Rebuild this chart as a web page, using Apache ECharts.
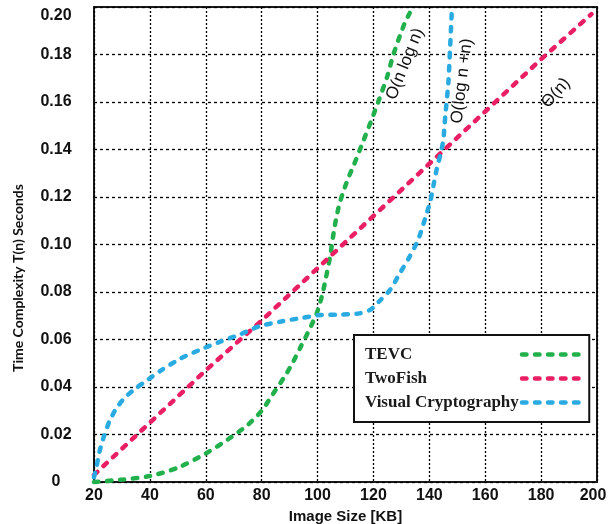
<!DOCTYPE html>
<html>
<head>
<meta charset="utf-8">
<script src="https://cdn.jsdelivr.net/npm/echarts@6/dist/echarts.min.js"></script>
<style>
  html, body { margin: 0; padding: 0; background: #fff; }
  #chart { width: 609px; height: 524px; }
</style>
</head>
<body>
<div id="chart"></div>
<script>
// Image size (KB) and running time T(n) in seconds for each scheme
const tevcX = [20, 30, 40, 50, 60, 68, 75, 80, 84, 88, 91, 94, 97, 99.7, 101.5, 103, 104.5, 105.5, 106.5, 107.7, 109, 111, 113, 116, 119.5, 122, 125, 127, 129.5, 131.3, 133];
const tevcY = [0, 0.001, 0.0025, 0.006, 0.012, 0.018, 0.024, 0.030, 0.037, 0.044, 0.050, 0.057, 0.064, 0.071, 0.078, 0.086, 0.095, 0.103, 0.110, 0.1165, 0.1215, 0.128, 0.1335, 0.1425, 0.153, 0.161, 0.171, 0.1795, 0.188, 0.1935, 0.1975];

const twofishX = [20, 40, 60, 80, 100, 120, 140, 160, 180, 198];
const twofishY = [0.003, 0.025, 0.047, 0.068, 0.090, 0.112, 0.134, 0.156, 0.178, 0.197];

const visualX = [20, 21, 22, 23.5, 25.5, 28, 31, 35, 38, 44, 51, 58, 65, 72, 79, 87, 94, 101, 109, 115, 119, 122, 126, 129.5, 133, 136, 138.5, 140.3, 141.5, 142.7, 144, 145, 145.7, 146.8, 147.4, 148];
const visualY = [0.002, 0.007, 0.013, 0.019, 0.0255, 0.031, 0.0355, 0.0395, 0.042, 0.047, 0.052, 0.0557, 0.059, 0.062, 0.0655, 0.0676, 0.069, 0.0703, 0.0705, 0.071, 0.0726, 0.076, 0.081, 0.088, 0.095, 0.102, 0.111, 0.118, 0.125, 0.132, 0.138, 0.144, 0.154, 0.168, 0.182, 0.197];

const seriesNames = ['TEVC', 'TwoFish', 'Visual Cryptography'];
const seriesColors = ['#21b04b', '#e91e63', '#29abe2'];

// Complexity notes written alongside the curves
const notes = [
  { text: 'O(n log n)', x: 405, y: 64, angle: 68 },
  { text: 'O(log n +n)', x: 462, y: 81, angle: 83 },
  { text: '\u0398(n)', x: 556, y: 93, angle: 48 }
];

const pairs = (xs, ys) => xs.map((x, i) => [x, ys[i]]);
const seriesData = [pairs(tevcX, tevcY), pairs(twofishX, twofishY), pairs(visualX, visualY)];

const chart = echarts.init(document.getElementById('chart'), null, { renderer: 'canvas' });

const tickFont = { fontFamily: 'Liberation Sans, Arial, sans-serif', fontWeight: 'bold', fontSize: 16, color: '#111' };
const dash = { width: 4.5, type: [4.5, 8.5], cap: 'round' };

chart.setOption({
  animation: false,
  backgroundColor: '#fff',
  grid: {
    left: 94, right: 12, top: 7, bottom: 42,
    outerBoundsMode: 'none', containLabel: false,
    show: true, borderColor: '#1a1a1a', borderWidth: 2
  },
  xAxis: {
    type: 'value', min: 20, max: 200, interval: 20,
    name: 'Image Size [KB]', nameLocation: 'middle', nameGap: 16,
    nameTextStyle: { fontFamily: 'Liberation Sans, Arial, sans-serif', fontWeight: 'bold', fontSize: 15, color: '#111' },
    axisLine: { show: false },
    axisTick: { show: false },
    axisLabel: Object.assign({
      margin: 6,
      formatter: v => (v >= 200 ? '{last|' + v + '}' : String(v)),
      rich: {
        last: Object.assign({ padding: [0, 8, 0, 0] }, tickFont)
      }
    }, tickFont),
    splitLine: { show: true, lineStyle: { color: '#000', width: 1.3, type: [2, 2] } }
  },
  yAxis: {
    type: 'value', min: 0, max: 0.2, interval: 0.02,
    axisLine: { show: false },
    axisTick: { show: false },
    axisLabel: Object.assign({
      margin: 38, align: 'center',
      formatter: v => (v === 0 ? '0' : (v >= 0.2 ? '{top|' + v.toFixed(2) + '}' : v.toFixed(2))),
      rich: {
        top: Object.assign({ padding: [18, 0, 0, 0] }, tickFont)
      }
    }, tickFont),
    splitLine: { show: true, lineStyle: { color: '#000', width: 1.3, type: [3, 3] } }
  },
  legend: {
    orient: 'vertical', left: 354, top: 335, align: 'right',
    backgroundColor: '#fff', borderColor: '#111', borderWidth: 2, borderRadius: 0,
    padding: [11, 1, 11, 11],
    itemWidth: 64, itemHeight: 14, itemGap: 7,
    itemStyle: { color: 'rgba(0,0,0,0)', borderWidth: 0 },
    lineStyle: dash,
    formatter: name => '{t|' + name + '}',
    textStyle: {
      rich: {
        t: {
          width: 152, align: 'left', height: 18,
          fontFamily: 'Liberation Serif, Times New Roman, serif',
          fontWeight: 'bold', fontSize: 17, color: '#1a1a1a'
        }
      }
    },
    data: seriesNames
  },
  graphic: [
    {
      type: 'text', x: 18, y: 278, rotation: Math.PI / 2,
      style: {
        text: 'Time Complexity T(n) Seconds',
        font: 'bold 14px Lato, "Liberation Sans", Arial, sans-serif',
        fill: '#111', align: 'center', verticalAlign: 'middle'
      }
    }
  ].concat(notes.map(n => ({
    type: 'text', x: n.x, y: n.y, rotation: n.angle * Math.PI / 180, z: 10,
    style: {
      text: n.text,
      font: '17px "Liberation Sans", Arial, sans-serif',
      fill: '#111', align: 'center', verticalAlign: 'middle'
    }
  }))),
  series: seriesNames.map((name, i) => ({
    name: name,
    type: 'line',
    data: seriesData[i],
    smooth: i === 1 ? false : 0.25,
    symbol: 'none',
    clip: false,
    color: seriesColors[i],
    lineStyle: Object.assign({ color: seriesColors[i] }, dash)
  }))
});
</script>
</body>
</html>
